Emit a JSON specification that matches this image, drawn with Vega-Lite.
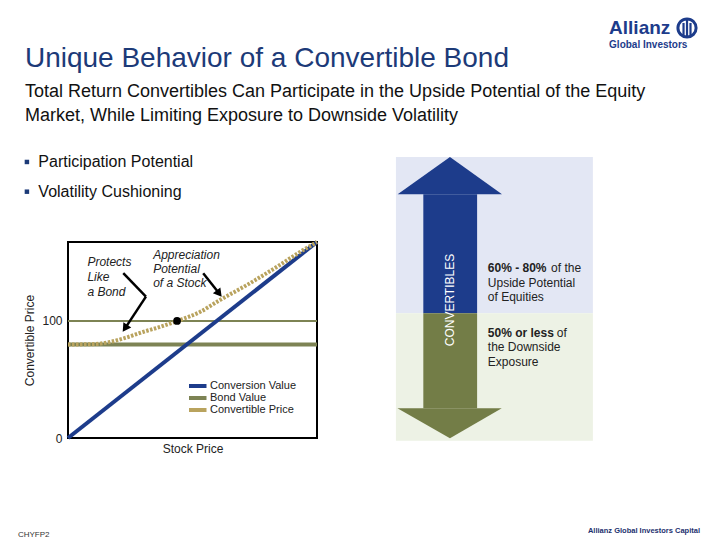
{
  "$schema": "https://vega.github.io/schema/vega-lite/v6.json",
  "width": 249,
  "height": 196,
  "autosize": {"type": "none"},
  "padding": {"left": 68, "top": 242, "right": 403, "bottom": 102},
  "background": "white",
  "config": {"font": "Liberation Sans", "view": {"stroke": "#000", "strokeWidth": 2}},
  "datasets": {
    "curves": [
      {"series": "Conversion Value", "part": "cv", "x": 0, "y": 0},
      {"series": "Conversion Value", "part": "cv", "x": 100, "y": 167.5},
      {"series": "Bond Value", "part": "floor", "x": 0, "y": 80},
      {"series": "Bond Value", "part": "floor", "x": 100, "y": 80},
      {"series": "Bond Value", "part": "par", "x": 0, "y": 100},
      {"series": "Bond Value", "part": "par", "x": 100, "y": 100},
      {"series": "Convertible Price", "part": "cp", "x": 0, "y": 79.9},
      {"series": "Convertible Price", "part": "cp", "x": 10.8, "y": 80.3},
      {"series": "Convertible Price", "part": "cp", "x": 16.9, "y": 82.1},
      {"series": "Convertible Price", "part": "cp", "x": 22.9, "y": 85.5},
      {"series": "Convertible Price", "part": "cp", "x": 30.1, "y": 90.6},
      {"series": "Convertible Price", "part": "cp", "x": 36.9, "y": 94.9},
      {"series": "Convertible Price", "part": "cp", "x": 43.8, "y": 100},
      {"series": "Convertible Price", "part": "cp", "x": 53.0, "y": 107.7},
      {"series": "Convertible Price", "part": "cp", "x": 61.0, "y": 117.9},
      {"series": "Convertible Price", "part": "cp", "x": 71.9, "y": 130.8},
      {"series": "Convertible Price", "part": "cp", "x": 85.1, "y": 147.9},
      {"series": "Convertible Price", "part": "cp", "x": 93.2, "y": 159.0},
      {"series": "Convertible Price", "part": "cp", "x": 100, "y": 167.5}
    ],
    "panel": [
      {"part": "bgTop", "x": 131.7, "x2": 210.8, "y": 106.6, "y2": 240.2},
      {"part": "bgBottom", "x": 131.7, "x2": 210.8, "y": -2.3, "y2": 106.6},
      {"part": "shaftUp", "x": 142.7, "x2": 164.3, "y": 106.6, "y2": 208.3},
      {"part": "shaftDown", "x": 142.7, "x2": 164.3, "y": 25.4, "y2": 106.6}
    ],
    "heads": [
      {"head": "up", "x": 132.4, "y": 208.3, "y2": 208.3},
      {"head": "up", "x": 153.4, "y": 240.2, "y2": 208.3},
      {"head": "up", "x": 174.3, "y": 208.3, "y2": 208.3},
      {"head": "down", "x": 132.3, "y": 25.4, "y2": 25.4},
      {"head": "down", "x": 153.4, "y": -0.3, "y2": 25.4},
      {"head": "down", "x": 174.2, "y": 25.4, "y2": 25.4}
    ],
    "arrows": [
      {"x": 22.2, "y": 140.8, "x2": 31.3, "y2": 120.8},
      {"x": 31.3, "y": 120.8, "x2": 22.9, "y2": 93.7},
      {"x": 54.3, "y": 140.8, "x2": 60.5, "y2": 124.1}
    ],
    "bullets": [
      {"x": -16.5, "y": 235.9},
      {"x": -16.5, "y": 210.5}
    ],
    "emblem": [
      {"x": 247.2, "y": 354.7, "y2": 343.6},
      {"x": 248.6, "y": 358.1, "y2": 342.7},
      {"x": 250.0, "y": 354.7, "y2": 343.6}
    ],
    "notes": [
      {"kind": "title", "text": "Unique Behavior of a Convertible Bond", "x": -17.3, "y": 324.0},
      {"kind": "sub", "text": "Total Return Convertibles Can Participate in the Upside Potential of the Equity", "x": -17.3, "y": 295.7},
      {"kind": "sub", "text": "Market, While Limiting Exposure to Downside Volatility", "x": -17.3, "y": 275.2},
      {"kind": "bullet", "text": "Participation Potential", "x": -11.9, "y": 235.5},
      {"kind": "bullet", "text": "Volatility Cushioning", "x": -11.9, "y": 210.3},
      {"kind": "annot", "text": "Protects", "x": 7.8, "y": 150.2},
      {"kind": "annot", "text": "Like", "x": 7.8, "y": 137.4},
      {"kind": "annot", "text": "a Bond", "x": 7.8, "y": 125.1},
      {"kind": "annot", "text": "Appreciation", "x": 34.2, "y": 156.4},
      {"kind": "annot", "text": "Potential", "x": 34.2, "y": 144.2},
      {"kind": "annot", "text": "of a Stock", "x": 34.2, "y": 132.2},
      {"kind": "panelBold", "text": "60% - 80%", "x": 168.6, "y": 145.0},
      {"kind": "panel", "text": "of the", "x": 194.0, "y": 145.0},
      {"kind": "panel", "text": "Upside Potential", "x": 168.6, "y": 132.2},
      {"kind": "panel", "text": "of Equities", "x": 168.6, "y": 120.8},
      {"kind": "panelBold", "text": "50% or less", "x": 168.6, "y": 90.0},
      {"kind": "panel", "text": "of", "x": 196.3, "y": 90.0},
      {"kind": "panel", "text": "the Downside", "x": 168.6, "y": 77.5},
      {"kind": "panel", "text": "Exposure", "x": 168.6, "y": 65.2},
      {"kind": "vert", "text": "CONVERTIBLES", "x": 153.4, "y": 117.9},
      {"kind": "logo", "text": "Allianz", "x": 217.3, "y": 350.4},
      {"kind": "logoSub", "text": "Global Investors", "x": 217.3, "y": 335.9},
      {"kind": "footer", "text": "CHYFP2", "x": -20.1, "y": -82.9},
      {"kind": "brand", "text": "Allianz Global Investors Capital", "x": 208.8, "y": -79.5}
    ]
  },
  "encoding": {
    "x": {"field": "x", "type": "quantitative", "scale": {"domain": [0, 100], "nice": false, "zero": false},
      "axis": {"title": "Stock Price", "labels": false, "ticks": false, "domain": false, "grid": false, "titleFontSize": 12, "titleFontWeight": "normal", "titleColor": "#222", "titlePadding": 5}},
    "y": {"field": "y", "type": "quantitative", "scale": {"domain": [0, 167.5], "nice": false, "zero": false},
      "axis": {"title": "Convertible Price", "values": [0, 100], "ticks": false, "domain": false, "grid": false, "labelFontSize": 12, "labelColor": "#222", "labelPadding": 6, "titleFontSize": 12, "titleFontWeight": "normal", "titleColor": "#222", "titlePadding": 5}}
  },
  "layer": [
    {"data": {"name": "panel"}, "transform": [{"filter": "datum.part == 'bgTop'"}], "mark": {"type": "rect", "color": "#e3e7f4"}, "encoding": {"x2": {"field": "x2"}, "y2": {"field": "y2"}}},
    {"data": {"name": "panel"}, "transform": [{"filter": "datum.part == 'bgBottom'"}], "mark": {"type": "rect", "color": "#edf2e5"}, "encoding": {"x2": {"field": "x2"}, "y2": {"field": "y2"}}},
    {"data": {"name": "panel"}, "transform": [{"filter": "datum.part == 'shaftUp'"}], "mark": {"type": "rect", "color": "#1d3c8b"}, "encoding": {"x2": {"field": "x2"}, "y2": {"field": "y2"}}},
    {"data": {"name": "panel"}, "transform": [{"filter": "datum.part == 'shaftDown'"}], "mark": {"type": "rect", "color": "#737d47"}, "encoding": {"x2": {"field": "x2"}, "y2": {"field": "y2"}}},
    {"data": {"name": "heads"}, "transform": [{"filter": "datum.head == 'up'"}], "mark": {"type": "area", "color": "#1d3c8b", "opacity": 1}, "encoding": {"y2": {"field": "y2"}}},
    {"data": {"name": "heads"}, "transform": [{"filter": "datum.head == 'down'"}], "mark": {"type": "area", "color": "#737d47", "opacity": 1}, "encoding": {"y2": {"field": "y2"}}},
    {"data": {"name": "notes"}, "transform": [{"filter": "datum.kind == 'vert'"}], "mark": {"type": "text", "angle": 270, "fontSize": 12, "color": "white", "align": "center", "baseline": "middle"}, "encoding": {"text": {"field": "text"}}},
    {"data": {"name": "notes"}, "transform": [{"filter": "datum.kind == 'panel'"}], "mark": {"type": "text", "fontSize": 12, "color": "#222", "align": "left", "baseline": "middle"}, "encoding": {"text": {"field": "text"}}},
    {"data": {"name": "notes"}, "transform": [{"filter": "datum.kind == 'panelBold'"}], "mark": {"type": "text", "fontSize": 12, "fontWeight": "bold", "color": "#222", "align": "left", "baseline": "middle"}, "encoding": {"text": {"field": "text"}}},
    {"data": {"name": "curves"}, "transform": [{"filter": "datum.part == 'par'"}], "mark": {"type": "line", "strokeWidth": 2},
      "encoding": {"color": {"field": "series", "type": "nominal", "scale": {"domain": ["Conversion Value", "Bond Value", "Convertible Price"], "range": ["#1d3c8b", "#7d8354", "#b9a35e"]},
        "legend": {"title": null, "orient": "none", "legendX": 121, "legendY": 138, "symbolType": "M-24,0H24", "symbolStrokeWidth": 4, "symbolSize": 1, "symbolDash": [1, 0], "labelFontSize": 11, "labelColor": "#222", "rowPadding": 0, "padding": 0, "labelOffset": 10, "clipHeight": 12}}}},
    {"data": {"name": "curves"}, "transform": [{"filter": "datum.part == 'floor'"}], "mark": {"type": "line", "strokeWidth": 4},
      "encoding": {"color": {"field": "series", "type": "nominal"}}},
    {"data": {"name": "curves"}, "transform": [{"filter": "datum.part == 'cv'"}], "mark": {"type": "line", "strokeWidth": 4},
      "encoding": {"color": {"field": "series", "type": "nominal"}}},
    {"data": {"name": "curves"}, "transform": [{"filter": "datum.part == 'cp'"}], "mark": {"type": "line", "strokeWidth": 4, "strokeDash": [2.5, 1.5], "interpolate": "monotone"},
      "encoding": {"color": {"field": "series", "type": "nominal"}}},
    {"data": {"values": [{"x": 43.8, "y": 100}]}, "mark": {"type": "point", "filled": true, "color": "#000", "size": 60, "opacity": 1}},
    {"data": {"name": "arrows"}, "mark": {"type": "rule", "color": "#000", "strokeWidth": 2.5}, "encoding": {"x2": {"field": "x2"}, "y2": {"field": "y2"}}},
    {"data": {"values": [{"x": 22.9, "y": 93.7}]}, "mark": {"type": "point", "shape": "triangle-up", "filled": true, "color": "#000", "size": 90, "angle": 214, "opacity": 1}},
    {"data": {"values": [{"x": 60.7, "y": 123.4}]}, "mark": {"type": "point", "shape": "triangle-up", "filled": true, "color": "#000", "size": 90, "angle": 142, "opacity": 1}},
    {"data": {"name": "notes"}, "transform": [{"filter": "datum.kind == 'annot'"}], "mark": {"type": "text", "fontSize": 12, "fontStyle": "italic", "color": "#222", "align": "left", "baseline": "middle"}, "encoding": {"text": {"field": "text"}}},
    {"data": {"name": "notes"}, "transform": [{"filter": "datum.kind == 'title'"}], "mark": {"type": "text", "fontSize": 28, "color": "#1c3a78", "align": "left", "baseline": "middle"}, "encoding": {"text": {"field": "text"}}},
    {"data": {"name": "notes"}, "transform": [{"filter": "datum.kind == 'sub'"}], "mark": {"type": "text", "fontSize": 18, "color": "#111", "align": "left", "baseline": "middle"}, "encoding": {"text": {"field": "text"}}},
    {"data": {"name": "bullets"}, "mark": {"type": "square", "color": "#1c3a78", "size": 20, "opacity": 1}},
    {"data": {"name": "notes"}, "transform": [{"filter": "datum.kind == 'bullet'"}], "mark": {"type": "text", "fontSize": 16, "color": "#111", "align": "left", "baseline": "middle"}, "encoding": {"text": {"field": "text"}}},
    {"data": {"name": "notes"}, "transform": [{"filter": "datum.kind == 'logo'"}], "mark": {"type": "text", "fontSize": 19, "fontWeight": "bold", "color": "#1d3c8b", "align": "left", "baseline": "middle"}, "encoding": {"text": {"field": "text"}}},
    {"data": {"name": "notes"}, "transform": [{"filter": "datum.kind == 'logoSub'"}], "mark": {"type": "text", "fontSize": 10, "fontWeight": "bold", "color": "#1d3c8b", "align": "left", "baseline": "middle"}, "encoding": {"text": {"field": "text"}}},
    {"data": {"values": [{"x": 248.6, "y": 350.4}]}, "mark": {"type": "point", "shape": "circle", "filled": false, "color": "#1d3c8b", "strokeWidth": 3, "size": 330, "opacity": 1}},
    {"data": {"name": "emblem"}, "mark": {"type": "rule", "color": "#1d3c8b", "strokeWidth": 2.2}, "encoding": {"y2": {"field": "y2"}}},
    {"data": {"name": "notes"}, "transform": [{"filter": "datum.kind == 'footer'"}], "mark": {"type": "text", "fontSize": 8, "color": "#333", "align": "left", "baseline": "middle"}, "encoding": {"text": {"field": "text"}}},
    {"data": {"name": "notes"}, "transform": [{"filter": "datum.kind == 'brand'"}], "mark": {"type": "text", "fontSize": 7.5, "fontWeight": "bold", "color": "#1c2f6e", "align": "left", "baseline": "middle"}, "encoding": {"text": {"field": "text"}}}
  ]
}
